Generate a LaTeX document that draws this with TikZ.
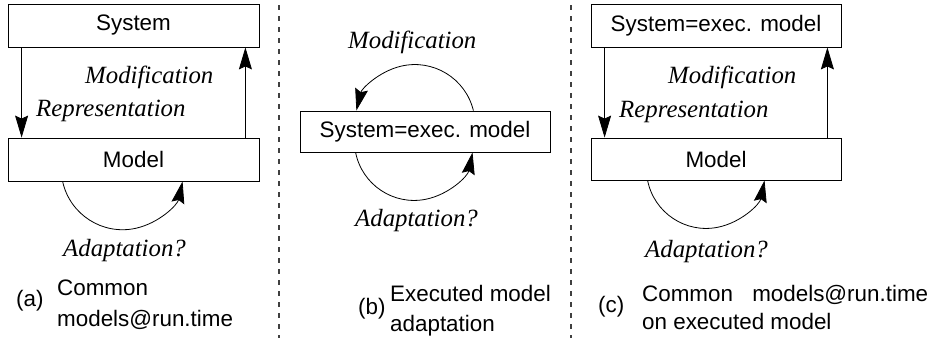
\documentclass[tikz,border=0pt]{standalone}
\usepackage{fontspec}
\setmainfont{Liberation Serif}
\setsansfont{Liberation Sans}
\usetikzlibrary{arrows.meta}
\tikzset{
  box/.style={draw, line width=0.8pt, minimum width=251pt, minimum height=43pt, inner sep=0pt, font=\sffamily\fontsize{22.4}{26}\selectfont},
  lbl/.style={anchor=base west, inner sep=0pt, font=\itshape\fontsize{24.8}{28}\selectfont},
  captxt/.style={anchor=base west, inner sep=0pt, font=\sffamily\fontsize{22.4}{26}\selectfont},
  arr/.style={line width=0.8pt, -{Stealth[length=22pt,width=13pt,inset=3pt]}},
  sepline/.style={line width=1.4pt, black!75, dash pattern=on 5pt off 6pt}
}
\begin{document}
\begin{tikzpicture}[x=1pt,y=-1pt]
\useasboundingbox (0,0) rectangle (929,338);
% separators
\draw[sepline] (279,5) -- (279,338);
\draw[sepline] (571,5) -- (571,338);
% ---------- (a)
\node[box] (sysA) at (133.5,25.5) {System};
\node[box] (modA) at (133.5,159.5) {Model};
\draw[arr] ([xshift=14pt]sysA.south west) -- ([xshift=14pt]modA.north west);
\draw[arr] ([xshift=-14pt]modA.north east) -- ([xshift=-14pt]sysA.south east);
\draw[arr] ([xshift=55pt]modA.south west) arc[start angle=167.7, end angle=12.3, radius=61.4];
\node[lbl] (modifA) at (85,83) {Modification};
\node[lbl] (reprA) at (36,116.5) {Representation};
\node[lbl] (adaptA) at (63,256) {Adaptation?};
\node[captxt] (labA) at (16,306) {(a)};
\node[captxt] (capA1) at (57,295) {Common};
\node[captxt] (capA2) at (57,326) {models@run.time};
% ---------- (b)
\node[box, minimum width=250pt, minimum height=41pt] (sysB) at (425,131.5) {System=exec. model};
\draw[arr] ([xshift=-77pt]sysB.north east) arc[start angle=-13.6, end angle=-166.4, radius=60.2];
\draw[arr] ([xshift=56pt]sysB.south west) arc[start angle=168.8, end angle=11.2, radius=59.6];
\node[lbl] (modifB) at (348,48.3) {Modification};
\node[lbl] (adaptB) at (355,226.7) {Adaptation?};
\node[captxt] (labB) at (358,314) {(b)};
\node[captxt] (capB1) at (390,301) {Executed model};
\node[captxt] (capB2) at (390,331) {adaptation};
% ---------- (c)
\node[box, minimum width=250pt] (sysC) at (716,25.5) {System=exec. model};
\node[box, minimum width=250pt, minimum height=42pt] (modC) at (716,159) {Model};
\draw[arr] ([xshift=14pt]sysC.south west) -- ([xshift=14pt]modC.north west);
\draw[arr] ([xshift=-14pt]modC.north east) -- ([xshift=-14pt]sysC.south east);
\draw[arr] ([xshift=57pt]modC.south west) arc[start angle=168.8, end angle=11.2, radius=59.6];
\node[lbl] (modifC) at (668,83) {Modification};
\node[lbl] (reprC) at (619,117) {Representation};
\node[lbl] (adaptC) at (645,257) {Adaptation?};
\node[captxt] (labC) at (598,312) {(c)};
\node[captxt] (capC1) at (642,301) {Common\hspace{13pt} models@run.time};
\node[captxt] (capC2) at (642,329) {on executed model};
\end{tikzpicture}
\end{document}
